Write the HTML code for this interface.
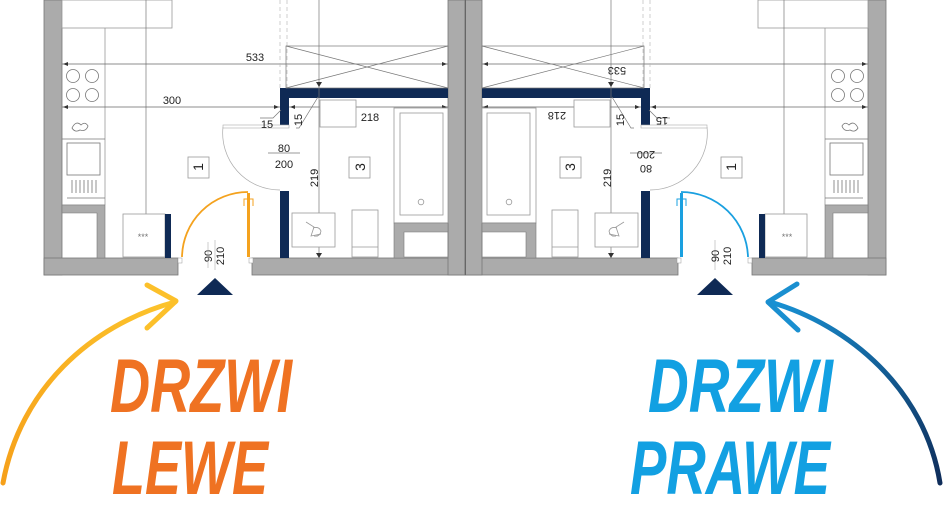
<!DOCTYPE html>
<html><head><meta charset="utf-8"><style>
html,body{margin:0;padding:0;background:#fff;width:944px;height:515px;overflow:hidden}
svg{display:block}
text{font-family:"Liberation Sans",sans-serif}
</style></head><body>
<svg width="944" height="515" viewBox="0 0 944 515" xmlns="http://www.w3.org/2000/svg">
<defs>
<linearGradient id="go" x1="0" y1="1" x2="1" y2="0"><stop offset="0" stop-color="#f6a01a"/><stop offset="1" stop-color="#fcc42c"/></linearGradient>
<linearGradient id="gb" x1="1" y1="1" x2="0" y2="0"><stop offset="0" stop-color="#0f2d5a"/><stop offset="1" stop-color="#1893d6"/></linearGradient>
<g id="half">
  <rect x="44" y="0" width="18" height="275" fill="#ababab" stroke="#777" stroke-width="0.8"/>
  <rect x="44" y="258" width="134" height="17" fill="#ababab" stroke="#777" stroke-width="0.8"/>
  <rect x="252" y="258" width="213" height="17" fill="#ababab" stroke="#777" stroke-width="0.8"/>
  <rect x="448" y="0" width="17" height="275" fill="#ababab" stroke="#777" stroke-width="0.8"/>
  <rect x="62" y="0" width="110" height="28" fill="#fff" stroke="#999" stroke-width="0.8"/>
  <line x1="105" y1="28" x2="105" y2="205" stroke="#999" stroke-width="0.8"/>
  <line x1="62" y1="205" x2="105" y2="205" stroke="#999" stroke-width="0.8"/>
  <line x1="146" y1="0" x2="146" y2="255" stroke="#777" stroke-width="0.7"/>
  <path d="M143,250 L146,256 L149,250Z" fill="#333"/>
  <line x1="62" y1="64" x2="448" y2="64" stroke="#666" stroke-width="0.7"/>
  <line x1="62" y1="107" x2="280" y2="107" stroke="#666" stroke-width="0.7"/>
  <line x1="289" y1="107" x2="448" y2="107" stroke="#666" stroke-width="0.7"/>
  <path d="M63,64 l5,-2 v4z M447,64 l-5,-2 v4z M63,107 l5,-2 v4z M279,107 l-5,-2 v4z M290,107 l5,-2 v4z M447,107 l-5,-2 v4z" fill="#333"/>
  <g fill="none" stroke="#777" stroke-width="0.8">
    <circle cx="73" cy="76" r="6.5"/><circle cx="92" cy="76" r="6.5"/>
    <circle cx="73" cy="95" r="6.5"/><circle cx="92" cy="95" r="6.5"/>
    <line x1="62" y1="139" x2="105" y2="139"/>
    <rect x="67" y="143" width="33" height="32"/>
    <line x1="67" y1="198" x2="105" y2="198"/>
    <path d="M72,180v13M76,180v13M80,180v13M84,180v13M88,180v13M92,180v13M96,180v13"/>
    <path d="M72,128 q4,-8 9,-3 q4,-4 7,1 q-2,6 -8,4 q-5,3 -8,-2z"/>
  </g>
  <path d="M62,205 H105 V258 H97 V213 H62Z" fill="#ababab" stroke="#777" stroke-width="0.6"/>
  <rect x="123" y="214" width="42" height="43" fill="#fff" stroke="#999" stroke-width="0.8"/>
  <text x="143" y="240" font-size="9" fill="#777" text-anchor="middle">***</text>
  <rect x="165" y="214" width="6" height="44" fill="#0f2a55"/>
  <rect x="178" y="258" width="4" height="5" fill="#fff" stroke="#999" stroke-width="0.5"/>
  <rect x="249" y="258" width="4" height="5" fill="#fff" stroke="#999" stroke-width="0.5"/>
  <path d="M197,295 L215,278 L233,295Z" fill="#0f2a55"/>
  <path d="M280,88 H448 V98 H289 V127 H280Z" fill="#0f2a55"/>
  <rect x="280" y="191" width="9" height="67" fill="#0f2a55"/>
  <line x1="280" y1="0" x2="280" y2="88" stroke="#bbb" stroke-width="0.7" stroke-dasharray="4,3"/>
  <line x1="287" y1="0" x2="287" y2="88" stroke="#bbb" stroke-width="0.7" stroke-dasharray="4,3"/>
  <g fill="none" stroke="#777" stroke-width="0.7">
    <rect x="286" y="46" width="162" height="42"/>
    <line x1="286" y1="46" x2="448" y2="88"/><line x1="286" y1="88" x2="448" y2="46"/>
    <line x1="319" y1="0" x2="319" y2="258"/>
    <path d="M260,118 H273 L281,110"/>
    <path d="M296,128 H299 L318,97"/>
  </g>
  <path d="M223,127 A57,57 0 0 0 280,190" fill="none" stroke="#aaa" stroke-width="0.7"/>
  <rect x="223" y="125" width="66" height="3" fill="#fff" stroke="#aaa" stroke-width="0.6"/>
  <line x1="268" y1="153" x2="300" y2="153" stroke="#777" stroke-width="0.7"/>
  <g fill="#fff" stroke="#999" stroke-width="0.8">
    <rect x="320" y="100" width="36" height="27"/>
    <rect x="394" y="108" width="54" height="115"/>
    <rect x="400" y="113" width="43" height="102"/>
    <rect x="292" y="213" width="43" height="34"/>
    <rect x="352" y="210" width="26" height="47"/>
    <line x1="352" y1="247" x2="378" y2="247"/>
    <circle cx="421" cy="202" r="2.8"/>
    <path d="M306,222 l8,5 l-3,9 l10,-2 M313,228 q6,-2 8,3 q-1,6 -7,5" fill="none"/>
  </g>
  <path d="M394,223 H448 V258 H394Z M404,232 V257 H448 V232Z" fill="#ababab" fill-rule="evenodd" stroke="#777" stroke-width="0.6"/>
  <path d="M316,82 l3,5 l3,-5z M316,253 l3,5 l3,-5z" fill="#333"/>
  <rect x="188" y="157" width="21" height="21" fill="#fff" stroke="#999" stroke-width="0.8"/>
  <rect x="349" y="157" width="21" height="21" fill="#fff" stroke="#999" stroke-width="0.8"/>
  <line x1="215" y1="240" x2="215" y2="270" stroke="#aaa" stroke-width="0.6"/>
</g>
</defs>
<use href="#half"/>
<use href="#half" transform="translate(930,0) scale(-1,1)"/>
<rect x="465" y="0" width="1" height="275" fill="#666"/>
<!-- left door orange -->
<path d="M182,257 A66,66 0 0 1 248,192" fill="none" stroke="#f4a21e" stroke-width="1.8"/>
<rect x="247" y="193" width="3" height="64" fill="#f4a21e"/>
<path d="M244,206 V199 H253 V206 M248,199 V206" fill="none" stroke="#f4a21e" stroke-width="1"/>
<!-- right door blue -->
<path d="M748,257 A67,67 0 0 0 681,192" fill="none" stroke="#1aa0e0" stroke-width="1.8"/>
<rect x="680" y="193" width="3" height="64" fill="#1aa0e0"/>
<path d="M686,206 V199 H677 V206 M682,199 V206" fill="none" stroke="#1aa0e0" stroke-width="1"/>
<g font-size="11" fill="#222">
  <text x="255" y="61" text-anchor="middle">533</text>
  <text x="172" y="104" text-anchor="middle">300</text>
  <text x="267" y="128" text-anchor="middle">15</text>
  <text transform="translate(302,120) rotate(-90)" text-anchor="middle">15</text>
  <text x="370" y="121" text-anchor="middle">218</text>
  <text x="284" y="152" text-anchor="middle">80</text>
  <text x="284" y="168" text-anchor="middle">200</text>
  <text transform="translate(318,178) rotate(-90)" text-anchor="middle">219</text>
  <text transform="translate(212,256) rotate(-90)" text-anchor="middle">90</text>
  <text transform="translate(224,256) rotate(-90)" text-anchor="middle">210</text>
  <text transform="translate(203,167) rotate(-90)" text-anchor="middle" font-size="14">1</text>
  <text transform="translate(365,167) rotate(-90)" text-anchor="middle" font-size="14">3</text>
</g>
<line x1="208" y1="242" x2="208" y2="268" stroke="#aaa" stroke-width="0.6"/>
<g font-size="11" fill="#222">
  <text transform="translate(617,67) rotate(180)" text-anchor="middle">533</text>
  <text transform="translate(557,112) rotate(180)" text-anchor="middle">218</text>
  <text transform="translate(662,117) rotate(180)" text-anchor="middle">15</text>
  <text transform="translate(624,120) rotate(-90)" text-anchor="middle">15</text>
  <text transform="translate(646,151) rotate(180)" text-anchor="middle">200</text>
  <text transform="translate(646,165) rotate(180)" text-anchor="middle">80</text>
  <text transform="translate(611,178) rotate(-90)" text-anchor="middle">219</text>
  <text transform="translate(719,256) rotate(-90)" text-anchor="middle">90</text>
  <text transform="translate(731,256) rotate(-90)" text-anchor="middle">210</text>
  <text transform="translate(736,167) rotate(-90)" text-anchor="middle" font-size="14">1</text>
  <text transform="translate(575,167) rotate(-90)" text-anchor="middle" font-size="14">3</text>
</g>
<path d="M3,483 C20,390 90,325 175,302" fill="none" stroke="url(#go)" stroke-width="5" stroke-linecap="round"/>
<path d="M147,285 L176,301 L147,328" fill="none" stroke="#fcc02a" stroke-width="5" stroke-linecap="round" stroke-linejoin="round"/>
<path d="M940,483 C925,390 850,325 770,302" fill="none" stroke="url(#gb)" stroke-width="5" stroke-linecap="round"/>
<path d="M797,284 L768,302 L798,330" fill="none" stroke="#1a8fd0" stroke-width="5" stroke-linecap="round" stroke-linejoin="round"/>
<g font-weight="bold" font-style="italic" font-size="76">
  <text x="110" y="412" fill="#ef7222" textLength="182" lengthAdjust="spacingAndGlyphs">DRZWI</text>
  <text x="112" y="494" fill="#ef7222" textLength="156" lengthAdjust="spacingAndGlyphs">LEWE</text>
  <text x="648" y="412" fill="#12a0e2" textLength="185" lengthAdjust="spacingAndGlyphs">DRZWI</text>
  <text x="630" y="494" fill="#12a0e2" textLength="200" lengthAdjust="spacingAndGlyphs">PRAWE</text>
</g>
</svg>
</body></html>
